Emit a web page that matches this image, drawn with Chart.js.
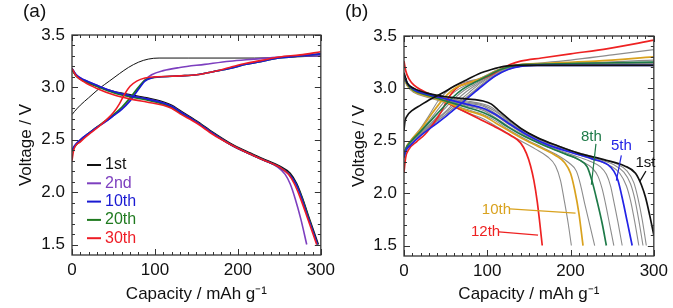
<!DOCTYPE html>
<html>
<head>
<meta charset="utf-8">
<script src="https://cdn.jsdelivr.net/npm/chart.js@4.4.1/dist/chart.umd.min.js"></script>
<style>
  html, body { margin: 0; padding: 0; background: #fff; }
  #wrap { position: relative; width: 673px; height: 308px; }
  canvas { position: absolute; top: 0; }
</style>
</head>
<body>
<div id="wrap">
  <canvas id="chartA" width="340" height="308" style="left:0"></canvas>
  <canvas id="chartB" width="333" height="308" style="left:340px"></canvas>
</div>
<script>
// axis ticks shared by both panels
const xTicks = [0, 100, 200, 300];
const yTicks = [1.5, 2.0, 2.5, 3.0, 3.5];

// ---- panel (a): [capacity, voltage] pairs ----
const aCycles = ['1st', '2nd', '10th', '20th', '30th'];
const aColors = ['#111111', '#7d3fbf', '#1a1ad2', '#1f7a1f', '#ee1c25'];

const aCharge1 = [[0,2.74],[3,2.77],[10,2.83],[20,2.90],[33,2.99],[45,3.06],[57,3.13],[68,3.19],[80,3.24],[92,3.27],[105,3.28],[140,3.28],[220,3.28],[300,3.30]];
const aCharge2 = [[0,2.39],[3,2.44],[10,2.50],[20,2.56],[30,2.62],[40,2.67],[50,2.73],[60,2.80],[70,2.89],[80,2.99],[88,3.07],[96,3.12],[110,3.16],[130,3.19],[160,3.22],[190,3.25],[220,3.27],[250,3.29],[275,3.30],[300,3.30]];
const aCharge10 = [[0,2.40],[3,2.44],[10,2.50],[20,2.56],[30,2.62],[40,2.67],[50,2.73],[60,2.79],[70,2.87],[80,2.98],[88,3.06],[96,3.09],[105,3.10],[130,3.11],[150,3.12],[170,3.15],[190,3.18],[210,3.22],[230,3.25],[250,3.28],[275,3.30],[300,3.32]];
const aCharge20 = [[0,2.39],[3,2.43],[10,2.49],[20,2.56],[30,2.62],[40,2.68],[50,2.74],[60,2.81],[70,2.90],[80,3.00],[88,3.07],[96,3.09],[105,3.10],[130,3.11],[150,3.12],[170,3.15],[190,3.18],[210,3.22],[230,3.25],[250,3.28],[275,3.30],[300,3.32]];
const aCharge30 = [[0,2.30],[2,2.40],[10,2.48],[20,2.55],[30,2.61],[40,2.68],[50,2.76],[57,2.84],[63,2.93],[70,3.01],[78,3.06],[88,3.09],[100,3.10],[130,3.11],[150,3.12],[170,3.15],[190,3.19],[210,3.23],[230,3.26],[250,3.29],[275,3.31],[300,3.34]];

const aDis1 = [[0,3.17],[5,3.11],[15,3.06],[30,3.01],[50,2.96],[70,2.93],[90,2.90],[110,2.86],[120,2.83],[130,2.78],[150,2.68],[170,2.57],[190,2.47],[210,2.39],[230,2.32],[250,2.25],[263,2.18],[271,2.08],[278,1.94],[286,1.75],[297,1.5]];
const aDis2 = [[0,3.18],[5,3.12],[15,3.07],[30,3.02],[50,2.96],[70,2.92],[90,2.89],[110,2.85],[120,2.82],[130,2.77],[150,2.67],[170,2.56],[190,2.46],[210,2.38],[230,2.31],[248,2.24],[257,2.17],[263,2.08],[269,1.94],[276,1.74],[283,1.5]];
const aDis10 = [[0,3.18],[5,3.12],[15,3.07],[30,3.02],[50,2.96],[70,2.92],[90,2.89],[110,2.85],[120,2.82],[130,2.77],[150,2.67],[170,2.56],[190,2.46],[210,2.38],[230,2.31],[250,2.24],[262,2.17],[270,2.08],[277,1.94],[285,1.75],[296,1.5]];
const aDis20 = [[0,3.17],[5,3.11],[15,3.06],[30,3.01],[50,2.95],[70,2.91],[90,2.88],[110,2.84],[120,2.81],[130,2.76],[150,2.67],[170,2.56],[190,2.46],[210,2.38],[230,2.31],[250,2.24],[262,2.17],[270,2.08],[277,1.95],[285,1.76],[296,1.5]];
const aDis30 = [[0,3.18],[5,3.11],[15,3.05],[30,2.99],[50,2.93],[70,2.89],[90,2.86],[110,2.83],[120,2.80],[130,2.75],[150,2.66],[170,2.55],[190,2.46],[210,2.38],[230,2.31],[250,2.24],[261,2.17],[268,2.08],[275,1.95],[284,1.75],[295,1.5]];

// ---- panel (b): 12 cycles ----
const bColors = ['#111111','#8c8c8c','#8c8c8c','#8c8c8c','#2323e6','#8c8c8c','#8c8c8c','#1e7a48','#8c8c8c','#d9a21e','#8c8c8c','#ee2222'];

const bDis1 = [[0,3.15],[4,3.05],[12,3.0],[30,2.95],[50,2.92],[75,2.90],[95,2.88],[105,2.85],[115,2.78],[127,2.70],[140,2.62],[160,2.53],[185,2.45],[210,2.38],[240,2.32],[265,2.26],[278,2.19],[285,2.08],[290,1.96],[295,1.79],[300,1.6]];
const bDis2 = [[0,3.13],[4,3.05],[12,3.0],[30,2.95],[50,2.91],[75,2.88],[95,2.85],[105,2.82],[115,2.76],[130,2.67],[150,2.57],[175,2.48],[200,2.41],[230,2.34],[255,2.28],[268,2.21],[276,2.10],[281,1.95],[286,1.75],[291,1.5]];
const bDis3 = [[0,3.12],[4,3.04],[12,2.99],[30,2.94],[50,2.91],[75,2.87],[95,2.84],[110,2.78],[125,2.69],[145,2.59],[170,2.49],[200,2.40],[230,2.33],[252,2.27],[264,2.20],[272,2.09],[277,1.95],[282,1.74],[287,1.5]];
const bDis4 = [[0,3.12],[4,3.04],[12,2.99],[30,2.94],[50,2.90],[75,2.86],[95,2.83],[110,2.76],[125,2.68],[145,2.58],[170,2.48],[200,2.39],[228,2.32],[248,2.26],[259,2.19],[267,2.07],[272,1.93],[277,1.73],[282,1.5]];
const bDis5 = [[0,3.13],[4,3.05],[12,2.99],[30,2.94],[50,2.90],[75,2.85],[95,2.81],[110,2.75],[125,2.67],[145,2.57],[170,2.47],[200,2.39],[225,2.33],[245,2.27],[252,2.21],[257,2.12],[263,1.92],[268,1.73],[274,1.5]];
const bDis6 = [[0,3.11],[4,3.04],[12,2.98],[30,2.93],[50,2.89],[75,2.84],[95,2.80],[110,2.74],[125,2.66],[145,2.56],[170,2.46],[200,2.37],[222,2.31],[236,2.25],[243,2.18],[248,2.07],[252,1.92],[257,1.72],[262,1.5]];
const bDis7 = [[0,3.11],[4,3.03],[12,2.98],[30,2.93],[50,2.89],[75,2.83],[95,2.79],[110,2.72],[125,2.64],[145,2.55],[170,2.45],[195,2.37],[214,2.30],[226,2.24],[233,2.16],[238,2.04],[242,1.90],[247,1.70],[252,1.5]];
const bDis8 = [[0,3.12],[4,3.04],[12,2.98],[30,2.93],[50,2.88],[75,2.82],[95,2.77],[110,2.71],[125,2.63],[145,2.54],[170,2.45],[195,2.37],[210,2.32],[220,2.25],[226,2.11],[232,1.92],[238,1.71],[243,1.5]];
const bDis9 = [[0,3.10],[4,3.03],[12,2.97],[30,2.92],[50,2.87],[75,2.80],[95,2.75],[110,2.69],[125,2.61],[145,2.52],[165,2.44],[185,2.36],[198,2.29],[207,2.21],[212,2.08],[217,1.90],[223,1.70],[229,1.5]];
const bDis10 = [[0,3.10],[4,3.03],[12,2.97],[30,2.92],[50,2.87],[75,2.79],[95,2.74],[110,2.67],[125,2.60],[145,2.51],[165,2.43],[182,2.36],[193,2.29],[200,2.19],[205,2.03],[210,1.81],[215,1.5]];
const bDis11 = [[0,3.09],[4,3.02],[12,2.96],[30,2.91],[50,2.86],[75,2.77],[95,2.71],[110,2.64],[125,2.57],[140,2.50],[158,2.42],[172,2.35],[182,2.26],[188,2.12],[192,1.95],[197,1.72],[201,1.5]];
const bDis12 = [[0,3.26],[2,3.17],[6,3.09],[12,3.03],[22,2.98],[35,2.93],[50,2.87],[70,2.79],[90,2.71],[110,2.63],[128,2.55],[140,2.48],[147,2.38],[152,2.26],[156,2.12],[160,1.92],[163,1.72],[166,1.5]];

const bChg1 = [[0,2.60],[1,2.68],[4,2.74],[10,2.79],[20,2.84],[30,2.89],[45,2.95],[60,3.02],[75,3.08],[90,3.14],[105,3.18],[120,3.21],[135,3.22],[160,3.22],[300,3.22]];
const bChg2 = [[0,2.36],[2,2.42],[8,2.48],[20,2.56],[35,2.66],[50,2.75],[65,2.85],[80,2.95],[95,3.05],[110,3.13],[125,3.19],[140,3.21],[160,3.22],[300,3.23]];
const bChg3 = [[0,2.36],[2,2.42],[8,2.48],[20,2.57],[35,2.67],[50,2.77],[65,2.87],[78,2.96],[92,3.05],[108,3.13],[122,3.19],[140,3.22],[160,3.23],[300,3.23]];
const bChg4 = [[0,2.35],[2,2.41],[8,2.47],[20,2.56],[35,2.66],[50,2.75],[65,2.85],[80,2.94],[95,3.04],[110,3.12],[125,3.18],[140,3.21],[160,3.22],[300,3.24]];
const bChg5 = [[0,2.34],[2,2.40],[8,2.46],[20,2.55],[35,2.64],[50,2.73],[65,2.83],[80,2.93],[95,3.03],[110,3.12],[125,3.18],[140,3.21],[160,3.22],[300,3.22]];
const bChg6 = [[0,2.35],[2,2.41],[8,2.48],[20,2.57],[35,2.68],[50,2.78],[62,2.88],[75,2.97],[88,3.04],[104,3.12],[120,3.18],[138,3.22],[160,3.23],[300,3.24]];
const bChg7 = [[0,2.35],[2,2.42],[8,2.49],[20,2.58],[35,2.69],[48,2.80],[60,2.90],[72,2.98],[85,3.04],[100,3.11],[118,3.18],[136,3.22],[160,3.23],[300,3.25]];
const bChg8 = [[0,2.35],[2,2.42],[8,2.49],[20,2.59],[33,2.70],[46,2.81],[58,2.91],[70,2.99],[83,3.05],[98,3.11],[116,3.18],[135,3.22],[160,3.23],[300,3.25]];
const bChg9 = [[0,2.34],[2,2.42],[8,2.50],[20,2.60],[32,2.71],[44,2.83],[55,2.93],[67,3.00],[80,3.05],[96,3.11],[114,3.18],[134,3.22],[170,3.23],[300,3.27]];
const bChg10 = [[0,2.34],[2,2.42],[8,2.50],[20,2.61],[30,2.72],[42,2.85],[52,2.94],[63,3.01],[77,3.05],[94,3.10],[112,3.17],[132,3.22],[170,3.24],[230,3.26],[300,3.30]];
const bChg11 = [[0,2.33],[2,2.42],[8,2.50],[20,2.62],[30,2.74],[40,2.87],[50,2.96],[60,3.02],[74,3.06],[92,3.10],[110,3.17],[130,3.22],[160,3.24],[200,3.27],[250,3.32],[300,3.37]];
const bChg12 = [[0,2.20],[2,2.34],[6,2.42],[15,2.49],[25,2.56],[35,2.66],[45,2.78],[52,2.89],[58,2.96],[66,3.02],[76,3.05],[90,3.08],[105,3.13],[118,3.19],[128,3.23],[140,3.26],[165,3.29],[200,3.33],[245,3.38],[300,3.46]];

const family = '"Liberation Sans", Arial, Helvetica, sans-serif';

function line(pts, color, width, order) {
  return {
    data: pts.map(p => ({ x: p[0], y: p[1] })),
    borderColor: color, borderWidth: width, pointRadius: 0,
    cubicInterpolationMode: 'monotone', fill: false, order: order
  };
}

// box with inward ticks on all four sides
const framePlugin = {
  id: 'frame',
  afterDatasetsDraw(chart) {
    const { ctx, chartArea: a, scales: { x, y } } = chart;
    ctx.save();
    ctx.strokeStyle = '#333';
    ctx.lineWidth = 1;
    ctx.beginPath();
    for (let i = 0; i <= 30; i++) {
      const px = Math.round(x.getPixelForValue(i * 10)) + 0.5;
      const len = i % 10 === 0 ? 6 : 3;
      ctx.moveTo(px, a.bottom); ctx.lineTo(px, a.bottom - len);
      ctx.moveTo(px, a.top); ctx.lineTo(px, a.top + len);
    }
    for (let i = 15; i <= 35; i++) {
      const py = Math.round(y.getPixelForValue(i / 10)) + 0.5;
      const len = i % 5 === 0 ? 6 : 3;
      ctx.moveTo(a.left, py); ctx.lineTo(a.left + len, py);
      ctx.moveTo(a.right, py); ctx.lineTo(a.right - len, py);
    }
    ctx.stroke();
    ctx.lineWidth = 1.3;
    ctx.strokeRect(a.left, a.top, a.right - a.left, a.bottom - a.top);
    ctx.restore();
  }
};

function panelLabel(text, px) {
  return {
    id: 'panelLabel',
    afterDraw(chart) {
      const ctx = chart.ctx;
      ctx.save();
      ctx.fillStyle = '#111';
      ctx.font = '19px ' + family;
      ctx.textAlign = 'left';
      ctx.textBaseline = 'middle';
      ctx.fillText(text, px, 12);
      ctx.restore();
    }
  };
}

function makeScales(yWidth, xHeight, yTitlePad) {
  return {
    x: {
      type: 'linear', min: 0, max: 300,
      afterBuildTicks: s => { s.ticks = xTicks.map(v => ({ value: v })); },
      afterFit: s => { s.height = xHeight; },
      grid: { display: false, drawTicks: false },
      border: { display: false },
      ticks: { padding: 5, color: '#111', maxRotation: 0, font: { family, size: 17 } },
      title: { display: true, text: 'Capacity / mAh g\u207B\u00B9', color: '#111',
               font: { family, size: 17 }, padding: { top: 0, bottom: 3 } }
    },
    y: {
      type: 'linear', min: 1.4, max: 3.5,
      afterBuildTicks: s => { s.ticks = yTicks.map(v => ({ value: v })); },
      afterFit: s => { s.width = yWidth; },
      grid: { display: false, drawTicks: false },
      border: { display: false },
      ticks: { padding: 7, color: '#111', font: { family, size: 17 }, callback: v => v.toFixed(1) },
      title: { display: true, text: 'Voltage / V', color: '#111',
               font: { family, size: 17 }, padding: { top: yTitlePad, bottom: 0 } }
    }
  };
}

// ---------- panel (a) ----------
const aCharges = [aCharge1, aCharge2, aCharge10, aCharge20, aCharge30];
const aDischarges = [aDis1, aDis2, aDis10, aDis20, aDis30];
const aOrder = [5, 4, 2, 3, 1];
const aDatasets = [];
aCycles.forEach((c, i) => {
  aDatasets.push(line(aCharges[i], aColors[i], i === 0 ? 1 : 1.6, aOrder[i]));
  aDatasets.push(line(aDischarges[i], aColors[i], 1.6, aOrder[i]));
});

const legendA = {
  id: 'legendA',
  afterDraw(chart) {
    const { ctx, chartArea: a } = chart;
    ctx.save();
    ctx.font = '16px ' + family;
    ctx.textAlign = 'left';
    ctx.textBaseline = 'middle';
    aCycles.forEach((c, i) => {
      const yy = a.top + 130 + i * 18.3;
      ctx.strokeStyle = aColors[i];
      ctx.lineWidth = 2;
      ctx.beginPath();
      ctx.moveTo(a.left + 15, yy); ctx.lineTo(a.left + 29, yy);
      ctx.stroke();
      ctx.fillStyle = aColors[i];
      ctx.fillText(c, a.left + 33, yy);
    });
    ctx.restore();
  }
};

new Chart(document.getElementById('chartA'), {
  type: 'line',
  data: { datasets: aDatasets },
  options: {
    responsive: false, animation: false,
    layout: { padding: { top: 35, right: 14, left: 0, bottom: 0 } },
    plugins: { legend: { display: false }, tooltip: { enabled: false } },
    scales: makeScales(72, 53, 16)
  },
  plugins: [framePlugin, legendA, panelLabel('(a)', 23)]
});

// ---------- panel (b) ----------
const bDischarges = [bDis1, bDis2, bDis3, bDis4, bDis5, bDis6, bDis7, bDis8, bDis9, bDis10, bDis11, bDis12];
const bCharges = [bChg1, bChg2, bChg3, bChg4, bChg5, bChg6, bChg7, bChg8, bChg9, bChg10, bChg11, bChg12];
const bDatasets = [];
bDischarges.forEach((d, i) => {
  const gray = bColors[i] === '#8c8c8c';
  bDatasets.push(line(bCharges[i], bColors[i], gray ? 1.1 : 1.7, gray ? 2 : 1));
  bDatasets.push(line(d, bColors[i], gray ? 1.1 : 1.7, gray ? 2 : 1));
});

// cycle labels with leader lines, in data units
const notesB = [
  { text: '1st',  color: '#111111', at: [290, 2.29], from: [290.5, 2.21], to: [283, 2.11] },
  { text: '5th',  color: '#2323e6', at: [261, 2.45], from: [261, 2.36], to: [255, 2.12] },
  { text: '8th',  color: '#1e7a48', at: [225, 2.54], from: [230.5, 2.47], to: [225, 2.08] },
  { text: '10th', color: '#d9a21e', at: [111, 1.84], from: [127, 1.85], to: [206, 1.81] },
  { text: '12th', color: '#ee2222', at: [98, 1.63],  from: [114, 1.63], to: [161, 1.60] }
];

const notesPlugin = {
  id: 'notesB',
  afterDatasetsDraw(chart) {
    const { ctx, scales: { x, y } } = chart;
    ctx.save();
    ctx.font = '15px ' + family;
    ctx.textAlign = 'center';
    ctx.textBaseline = 'middle';
    notesB.forEach(n => {
      ctx.strokeStyle = n.color;
      ctx.lineWidth = 1.2;
      ctx.beginPath();
      ctx.moveTo(x.getPixelForValue(n.from[0]), y.getPixelForValue(n.from[1]));
      ctx.lineTo(x.getPixelForValue(n.to[0]), y.getPixelForValue(n.to[1]));
      ctx.stroke();
      ctx.fillStyle = n.color;
      ctx.fillText(n.text, x.getPixelForValue(n.at[0]), y.getPixelForValue(n.at[1]));
    });
    ctx.restore();
  }
};

new Chart(document.getElementById('chartB'), {
  type: 'line',
  data: { datasets: bDatasets },
  options: {
    responsive: false, animation: false,
    layout: { padding: { top: 36, right: 17, left: 0, bottom: 0 } },
    plugins: { legend: { display: false }, tooltip: { enabled: false } },
    scales: makeScales(64, 52, 9)
  },
  plugins: [framePlugin, notesPlugin, panelLabel('(b)', 5)]
});
</script>
</body>
</html>
